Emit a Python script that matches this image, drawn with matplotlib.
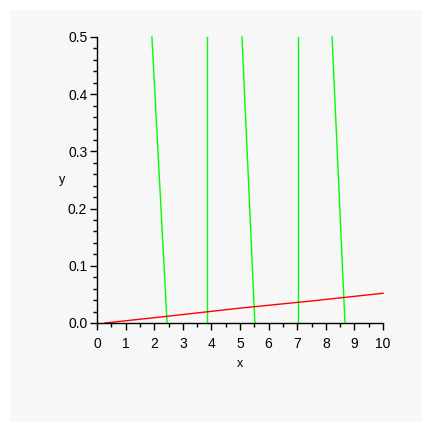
import matplotlib
matplotlib.use('Agg')
import matplotlib.pyplot as plt
from matplotlib.ticker import MultipleLocator, FormatStrFormatter

# green curves: x at top (y=0.5) and at bottom (y=0)
green_x_top = [1.92, 3.85, 5.07, 7.03, 8.22]
green_x_bottom = [2.45, 3.85, 5.52, 7.03, 8.67]
green_y = [0.5, 0.0]

# red curve
red_x = [0.28, 2.5, 5.0, 7.5, 10.0]
red_y = [0.0, 0.012, 0.026, 0.0385, 0.052]

plt.rcParams['font.family'] = ['Liberation Sans', 'DejaVu Sans']

fig = plt.figure(figsize=(4.32, 4.32), dpi=100)
fig.patch.set_facecolor('white')

# light grey panel behind the plot
bg = fig.add_axes([10 / 432, 10 / 432, 412 / 432, 412 / 432], zorder=-1)
bg.set_facecolor('#f7f7f7')
bg.set_xticks([])
bg.set_yticks([])
for s in bg.spines.values():
    s.set_visible(False)

ax = fig.add_axes([97 / 432, 1 - 323 / 432, 286 / 432, 286 / 432])
ax.patch.set_visible(False)

for xt, xb in zip(green_x_top, green_x_bottom):
    ax.plot([xt, xb], green_y, color='#00ff00', linewidth=1.0, clip_on=False)
ax.plot(red_x, red_y, color='#ff0000', linewidth=1.0, clip_on=False)

ax.set_xlim(0, 10)
ax.set_ylim(0, 0.5)
ax.xaxis.set_major_locator(MultipleLocator(1))
ax.xaxis.set_minor_locator(MultipleLocator(0.5))
ax.yaxis.set_major_locator(MultipleLocator(0.1))
ax.yaxis.set_minor_locator(MultipleLocator(0.02))
ax.yaxis.set_major_formatter(FormatStrFormatter('%.1f'))

for s in ['top', 'right']:
    ax.spines[s].set_visible(False)
for s in ['left', 'bottom']:
    ax.spines[s].set_linewidth(1.0)

ax.tick_params(which='major', direction='out', length=5, width=1.0,
               labelsize=10)
ax.tick_params(axis='x', which='major', pad=5)
ax.tick_params(axis='y', which='major', pad=2)
ax.tick_params(which='minor', direction='out', length=3, width=1.0)

ax.set_xlabel('x', fontsize=9, labelpad=5)
ax.set_ylabel('y', fontsize=9, rotation=0, labelpad=4, va='center')

fig.savefig('out.png', dpi=100)
